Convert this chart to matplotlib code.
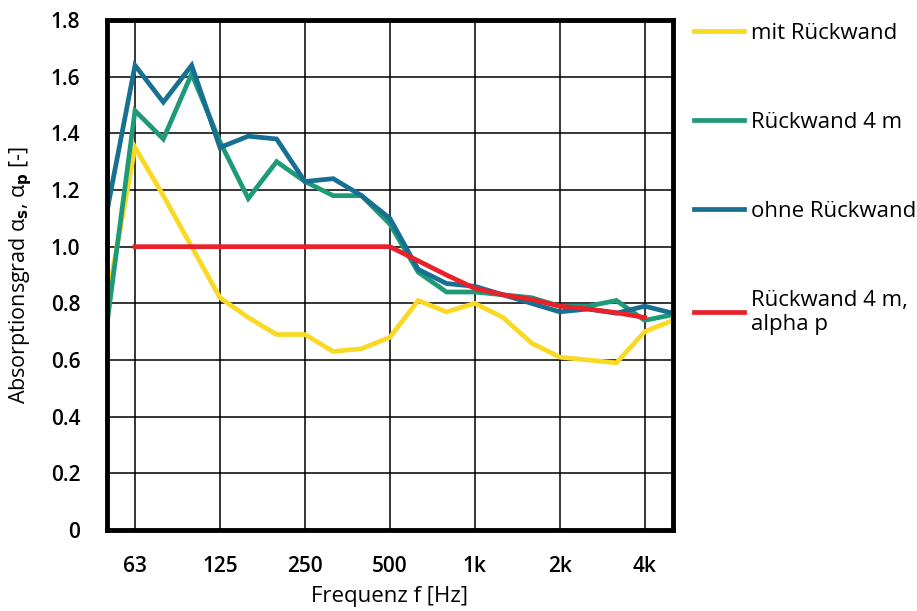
"""
Absorptionsgrad vs. Terzband-Frequenz, vier Varianten.
"""

import matplotlib
matplotlib.use("Agg")
import matplotlib.pyplot as plt
import numpy as np

BANDS = ["50", "63", "80", "100", "125", "160", "200", "250", "315", "400",
         "500", "630", "800", "1k", "1.25k", "1.6k", "2k", "2.5k", "3.15k",
         "4k", "5k"]
OCTAVE_LABELS = ["63", "125", "250", "500", "1k", "2k", "4k"]

mit_rueckwand = [0.80, 1.35, 1.18, 1.00, 0.82, 0.75, 0.69, 0.69, 0.63, 0.64,
                 0.68, 0.81, 0.77, 0.80, 0.75, 0.66, 0.61, 0.60, 0.59, 0.70,
                 0.74]
rueckwand_4m = [0.72, 1.48, 1.38, 1.61, 1.37, 1.17, 1.30, 1.23, 1.18, 1.18,
                1.08, 0.91, 0.84, 0.84, 0.83, 0.82, 0.79, 0.79, 0.81, 0.74,
                0.76]
ohne_rueckwand = [1.12, 1.64, 1.51, 1.64, 1.35, 1.39, 1.38, 1.23, 1.24, 1.18,
                  1.10, 0.92, 0.87, 0.86, 0.83, 0.80, 0.77, 0.78, 0.765, 0.79,
                  0.765]
rueckwand_4m_alpha_p = [np.nan, 1.0, 1.0, 1.0, 1.0, 1.0, 1.0, 1.0, 1.0, 1.0,
                        1.0, 0.95, 0.90, 0.853, 0.83, 0.814, 0.79, 0.78, 0.767,
                        0.75, np.nan]

SERIES = [
    ("mit Rückwand", mit_rueckwand, "#f9d923"),
    ("Rückwand 4 m", rueckwand_4m, "#1f9a78"),
    ("ohne Rückwand", ohne_rueckwand, "#176f92"),
    ("Rückwand 4 m,\nalpha p", rueckwand_4m_alpha_p, "#e8212b"),
]

plt.rcParams["font.family"] = ["Open Sans", "DejaVu Sans"]
plt.rcParams["mathtext.fontset"] = "dejavusans"

x = np.arange(len(BANDS))

fig = plt.figure(figsize=(9.17, 6.11), dpi=100)
ax = fig.add_axes([106.7 / 917, 81 / 611, (673 - 106.7) / 917, 510 / 611])

for label, vals, color in SERIES:
    ax.plot(x, vals, color=color, linewidth=3.4, label=label,
            solid_joinstyle="miter", zorder=3)

ax.set_xlim(0, len(BANDS) - 1)
ax.set_ylim(0, 1.8)
ax.set_xticks([BANDS.index(b) for b in OCTAVE_LABELS])
ax.set_xticklabels(OCTAVE_LABELS)
yt = np.arange(0, 1.81, 0.2)
ax.set_yticks(yt)
ax.set_yticklabels(["0"] + [f"{v:.1f}" for v in yt[1:]])
ax.tick_params(length=0, labelsize=15, pad=19)
for lab in ax.get_xticklabels() + ax.get_yticklabels():
    lab.set_fontweight("semibold")

ax.grid(True, color="black", linewidth=1.1, zorder=1)
for s in ax.spines.values():
    s.set_linewidth(3.5)
    s.set_zorder(4)

ax.set_xlabel("Frequenz f [Hz]", fontsize=16, labelpad=6)
ax.set_ylabel(r"Absorptionsgrad α$_{\mathbf{s}}$, α$_{\mathbf{p}}$ [-]",
              fontsize=15.5, labelpad=12)

ax.legend(loc="upper left", bbox_to_anchor=(1.0, 1.035), frameon=False,
          fontsize=16, handlelength=2.25, handletextpad=0.3,
          labelspacing=3.05, borderaxespad=0.55)

fig.savefig("out.png", dpi=100)
